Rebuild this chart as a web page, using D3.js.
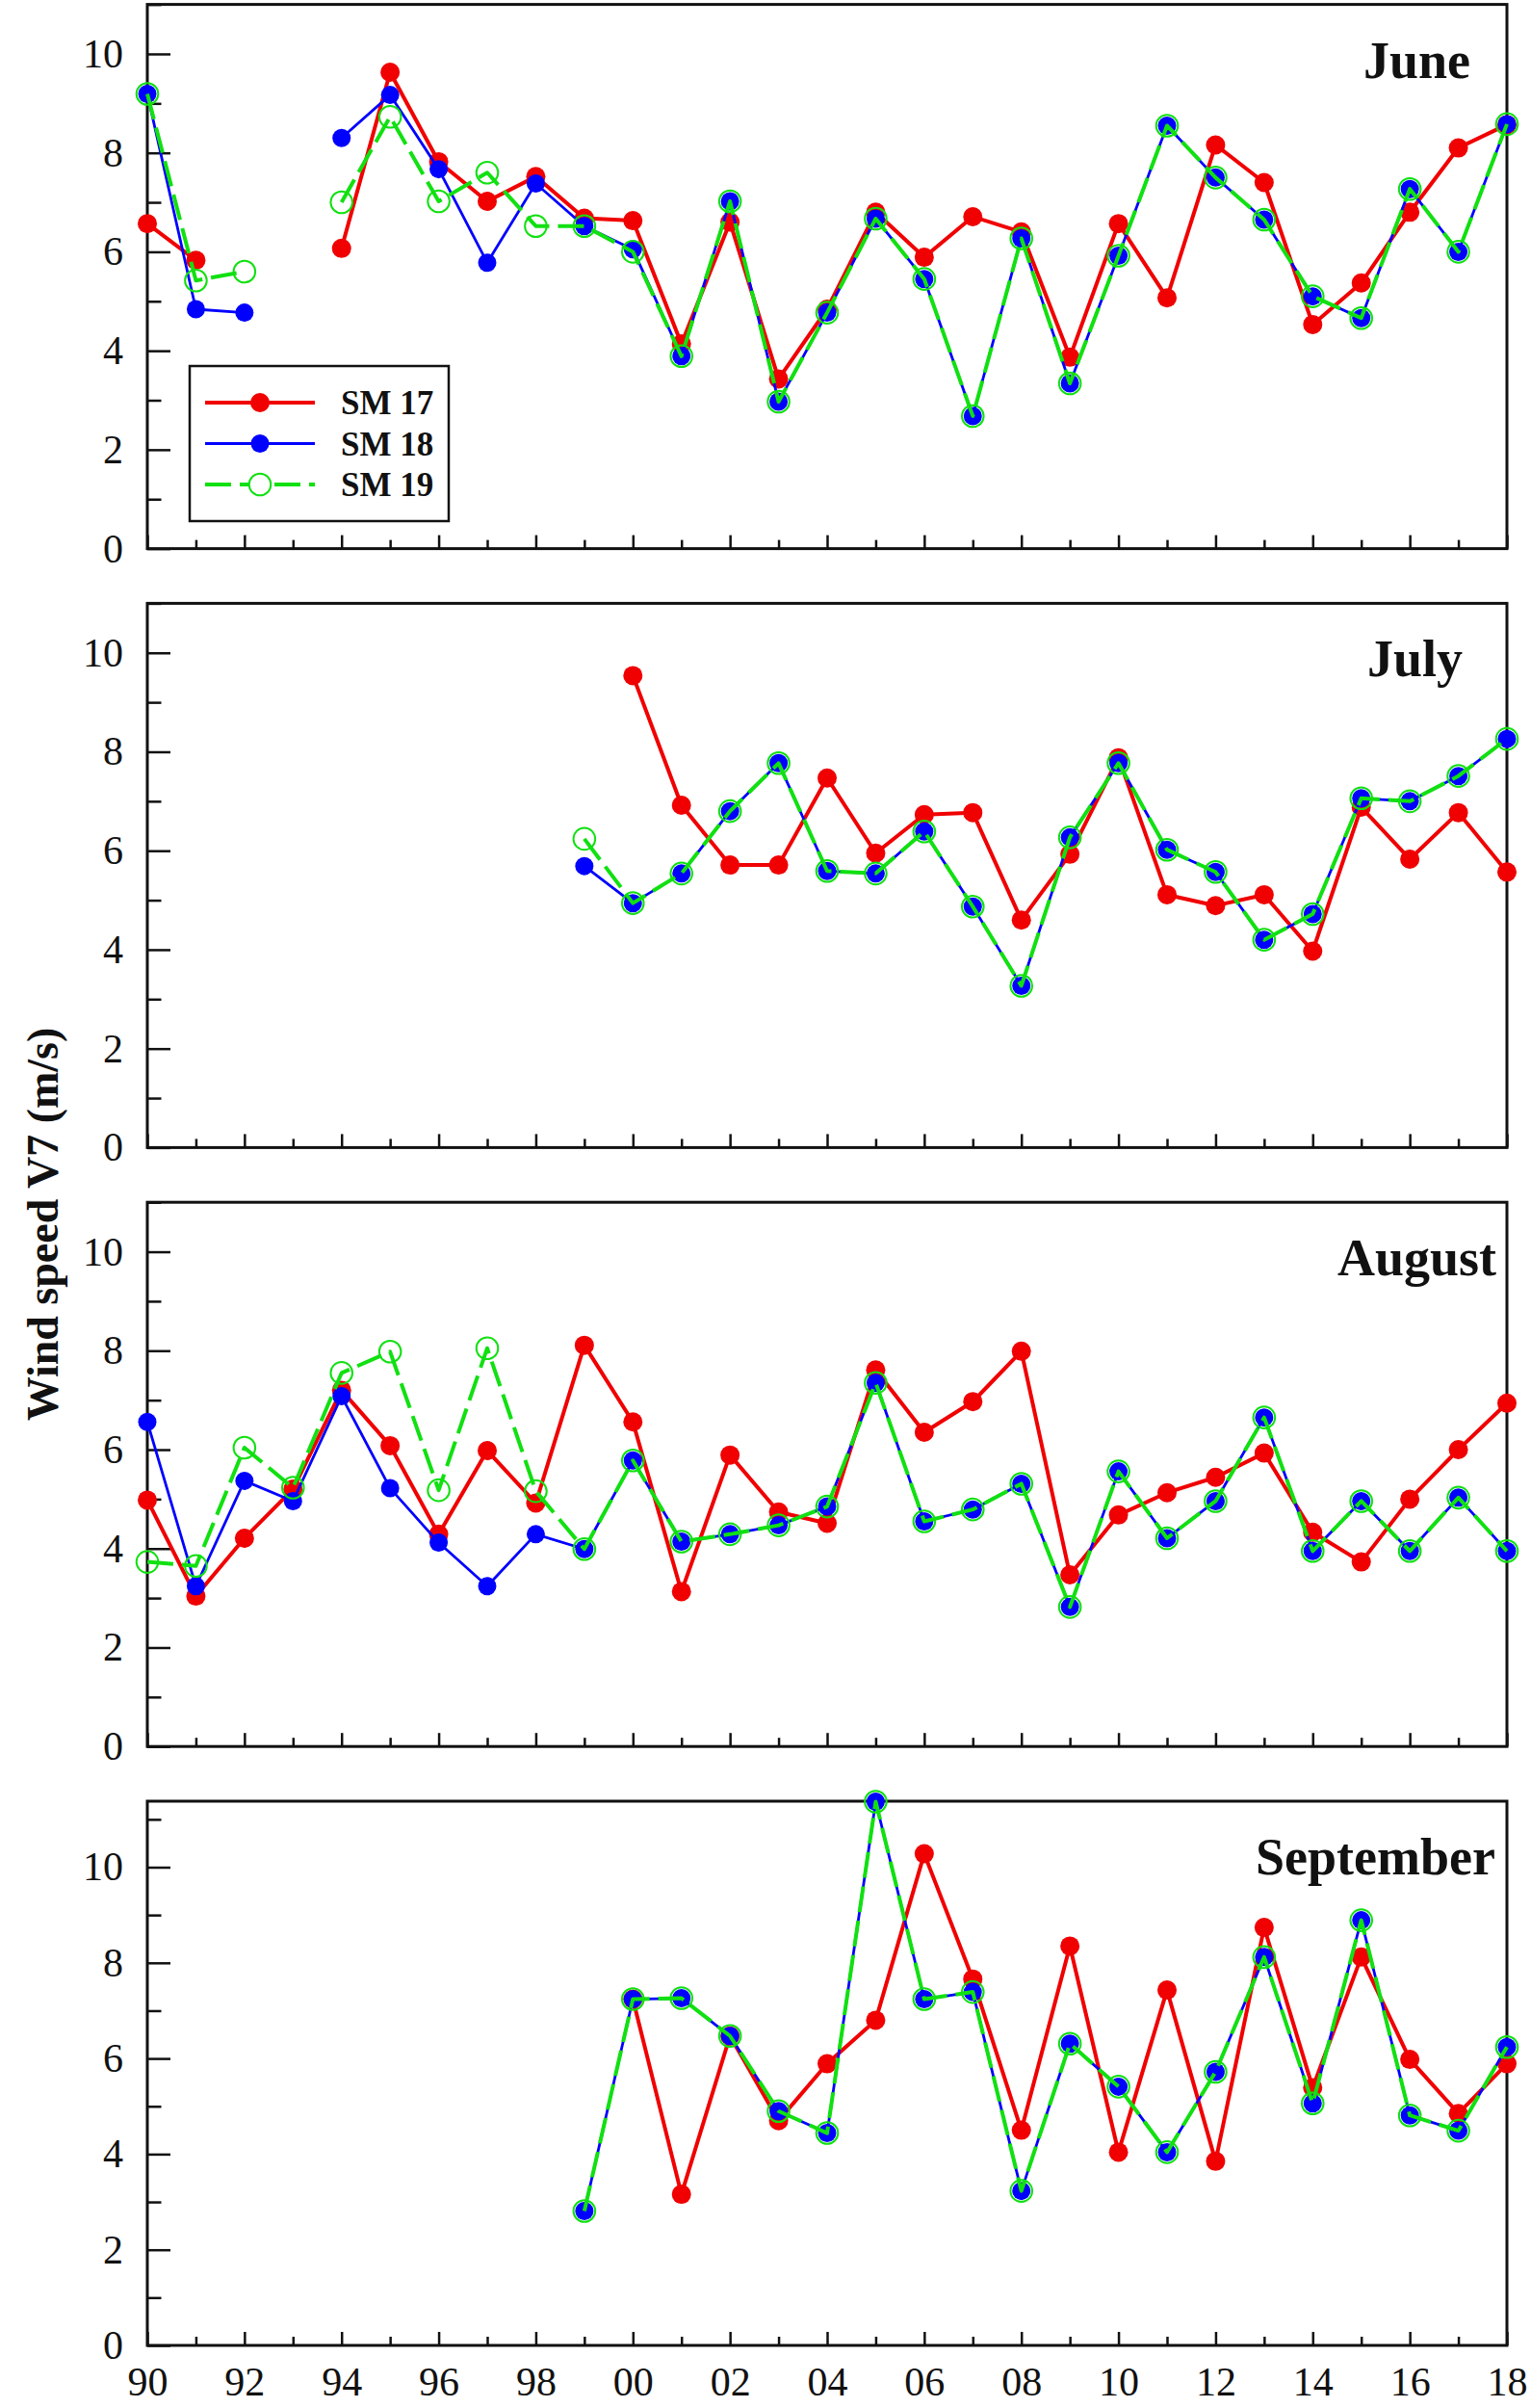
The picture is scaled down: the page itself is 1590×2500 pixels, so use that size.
<!DOCTYPE html>
<html><head><meta charset="utf-8">
<script src="https://cdn.jsdelivr.net/npm/d3@7"></script>
<style>
body{margin:0;background:#fff}
svg{display:block}
text{font-family:"Liberation Serif","Times New Roman",serif}
</style>
</head><body>
<svg id="c" width="1590" height="2500"></svg>
<script>
// ---------------- DATA ----------------
const years = [1990,1991,1992,1993,1994,1995,1996,1997,1998,1999,2000,2001,2002,2003,2004,2005,2006,2007,2008,2009,2010,2011,2012,2013,2014,2015,2016,2017,2018];
const xTickYears = [1990,1992,1994,1996,1998,2000,2002,2004,2006,2008,2010,2012,2014,2016,2018];
const xTickLabels = ["90","92","94","96","98","00","02","04","06","08","10","12","14","16","18"];
const yTickMajor = [0,2,4,6,8,10];
const yTickMinor = [1,3,5,7,9,11];
const months = ["June","July","August","September"];
const seriesNames = ["SM 17","SM 18","SM 19"];
const yAxisTitle = "Wind speed V7 (m/s)";
const yMax = [11, 11, 11, 11.38];

//               90    91    92    93    94    95    96    97    98    99    00    01    02    03    04    05    06    07    08    09    10    11    12    13    14    15    16    17    18
const juneSM17 = [6.57, 5.83, null, null, 6.07, 9.63, 7.82, 7.02, 7.52, 6.68, 6.63, 4.14, 6.60, 3.43, 4.84, 6.80, 5.89, 6.71, 6.40, 3.87, 6.57, 5.07, 8.16, 7.40, 4.53, 5.37, 6.80, 8.10, 8.57];
const juneSM18 = [9.19, 4.84, 4.77, null, 8.30, 9.17, 7.67, 5.78, 7.38, 6.52, 6.05, 3.89, 7.02, 2.97, 4.77, 6.67, 5.45, 2.68, 6.27, 3.34, 5.92, 8.55, 7.50, 6.65, 5.10, 4.66, 7.27, 6.00, 8.58];
const juneSM19 = [9.19, 5.42, 5.60, null, 7.00, 8.73, 7.02, 7.60, 6.52, 6.52, 6.00, 3.89, 7.02, 2.97, 4.77, 6.67, 5.45, 2.68, 6.27, 3.34, 5.92, 8.55, 7.50, 6.65, 5.10, 4.66, 7.27, 6.00, 8.58];

const julySM17 = [null, null, null, null, null, null, null, null, null, null, 9.54, 6.92, 5.71, 5.71, 7.47, 5.95, 6.73, 6.77, 4.60, 5.93, 7.88, 5.11, 4.89, 5.11, 3.97, 6.88, 5.83, 6.77, 5.57];
const julySM18 = [null, null, null, null, null, null, null, null, null, 5.69, 4.94, 5.54, 6.80, 7.77, 5.59, 5.54, 6.39, 4.87, 3.27, 6.27, 7.77, 6.02, 5.57, 4.20, 4.72, 7.06, 7.00, 7.51, 8.26];
const julySM19 = [null, null, null, null, null, null, null, null, null, 6.24, 4.94, 5.54, 6.80, 7.77, 5.59, 5.54, 6.39, 4.87, 3.27, 6.27, 7.77, 6.02, 5.57, 4.20, 4.72, 7.06, 7.00, 7.51, 8.26];

const augSM17 = [4.98, 3.04, 4.21, 5.20, 7.20, 6.08, 4.29, 5.98, 4.92, 8.11, 6.56, 3.13, 5.89, 4.74, 4.51, 7.61, 6.35, 6.97, 7.99, 3.47, 4.68, 5.13, 5.44, 5.93, 4.33, 3.73, 5.00, 6.00, 6.94];
const augSM18 = [6.56, 3.24, 5.37, 4.96, 7.08, 5.22, 4.12, 3.24, 4.29, 3.99, 5.78, 4.14, 4.29, 4.47, 4.85, 7.35, 4.55, 4.79, 5.31, 2.82, 5.56, 4.21, 4.96, 6.65, 3.95, 4.96, 3.95, 5.03, 3.95];
const augSM19 = [3.73, 3.65, 6.04, 5.23, 7.55, 7.98, 5.18, 8.05, 5.16, 3.99, 5.78, 4.14, 4.29, 4.47, 4.85, 7.35, 4.55, 4.79, 5.31, 2.82, 5.56, 4.21, 4.96, 6.65, 3.95, 4.96, 3.95, 5.03, 3.95];

const sepSM17 = [null, null, null, null, null, null, null, null, null, null, 7.24, 3.16, 6.47, 4.70, 5.89, 6.80, 10.28, 7.66, 4.50, 8.35, 4.04, 7.43, 3.85, 8.74, 5.39, 8.12, 5.98, 4.85, 5.89];
const sepSM18 = [null, null, null, null, null, null, null, null, null, 2.81, 7.24, 7.26, 6.47, 4.90, 4.44, 11.37, 7.24, 7.39, 3.23, 6.31, 5.41, 4.04, 5.72, 8.12, 5.06, 8.89, 4.81, 4.49, 6.24];
const sepSM19 = [null, null, null, null, null, null, null, null, null, 2.81, 7.24, 7.26, 6.47, 4.90, 4.44, 11.37, 7.24, 7.39, 3.23, 6.31, 5.41, 4.04, 5.72, 8.12, 5.06, 8.89, 4.81, 4.49, 6.24];

const panelSeries = [
  [juneSM17, juneSM18, juneSM19],
  [julySM17, julySM18, julySM19],
  [augSM17, augSM18, augSM19],
  [sepSM17, sepSM18, sepSM19]
];

// ---------------- LAYOUT / STYLE ----------------
const plotLeft = 153, plotRight = 1565;
const panelTop0 = 4.6, panelStep = 621.8, panelH = 565;
const titleRight = [1527, 1519, 1554, 1553];
const styles = [
  {color:"#f00000", width:4, dash:null, r:10, fill:"#f00000", stroke:"none", sw:0},
  {color:"#0000ff", width:2.8, dash:null, r:9.5, fill:"#0000ff", stroke:"none", sw:0},
  {color:"#11e011", width:4, dash:"27,9", r:11.3, fill:"none", stroke:"#11e011", sw:2}
];

const svg = d3.select("#c");
const x = d3.scaleLinear().domain([1990, 2018]).range([plotLeft, plotRight]);

panelSeries.forEach((series, pi) => {
  const top = panelTop0 + pi * panelStep;
  const bottom = top + panelH;
  const y = d3.scaleLinear().domain([0, yMax[pi]]).range([bottom, top]);
  const g = svg.append("g");

  // y minor ticks (inside)
  g.append("g").attr("transform", `translate(${plotLeft},0)`)
    .call(d3.axisLeft(y).tickValues(yTickMinor.filter(v => v <= yMax[pi])).tickSize(-14.5).tickFormat(""))
    .call(a => a.select(".domain").remove())
    .call(a => a.selectAll("line").attr("stroke", "#111").attr("stroke-width", 2.5));
  // y major ticks with labels
  g.append("g").attr("transform", `translate(${plotLeft},0)`)
    .call(d3.axisLeft(y).tickValues(yTickMajor).tickSize(-24).tickPadding(25).tickFormat(d3.format("d")))
    .call(a => a.select(".domain").remove())
    .call(a => a.selectAll("line").attr("stroke", "#111").attr("stroke-width", 2.5))
    .call(a => a.selectAll("text").attr("font-size", 42).attr("fill", "#111")
      .attr("font-family", "Liberation Serif, Times New Roman, serif"));

  // x minor ticks
  const minorYears = years.filter(v => xTickYears.indexOf(v) < 0);
  g.append("g").attr("transform", `translate(0,${bottom})`)
    .call(d3.axisBottom(x).tickValues(minorYears).tickSize(-9).tickFormat(""))
    .call(a => a.select(".domain").remove())
    .call(a => a.selectAll("line").attr("stroke", "#111").attr("stroke-width", 2.5));
  // x major ticks
  g.append("g").attr("transform", `translate(0,${bottom})`)
    .call(d3.axisBottom(x).tickValues(xTickYears).tickSize(-14).tickPadding(22)
      .tickFormat((d, i) => pi === panelSeries.length - 1 ? xTickLabels[i] : ""))
    .call(a => a.select(".domain").remove())
    .call(a => a.selectAll("line").attr("stroke", "#111").attr("stroke-width", 2.5))
    .call(a => a.selectAll("text").attr("font-size", 42).attr("fill", "#111")
      .attr("font-family", "Liberation Serif, Times New Roman, serif"));

  // frame
  g.append("rect").attr("x", plotLeft).attr("y", top)
    .attr("width", plotRight - plotLeft).attr("height", panelH)
    .attr("fill", "none").attr("stroke", "#111").attr("stroke-width", 3);

  // series
  series.forEach((vals, si) => {
    const st = styles[si];
    const pts = years.map((yr, k) => ({yr, v: vals[k]}));
    const line = d3.line().defined(d => d.v !== null).x(d => x(d.yr)).y(d => y(d.v));
    g.append("path").datum(pts).attr("d", line)
      .attr("fill", "none").attr("stroke", st.color).attr("stroke-width", st.width)
      .attr("stroke-dasharray", st.dash).attr("stroke-linejoin", "round");
    g.selectAll(null).data(pts.filter(d => d.v !== null)).enter().append("circle")
      .attr("cx", d => x(d.yr)).attr("cy", d => y(d.v)).attr("r", st.r)
      .attr("fill", st.fill).attr("stroke", st.stroke).attr("stroke-width", st.sw);
  });

  // month title
  g.append("text").attr("x", titleRight[pi]).attr("y", top + 76)
    .attr("text-anchor", "end").attr("font-weight", "bold").attr("font-size", 54)
    .attr("fill", "#111").text(months[pi]);

  // legend in first panel
  if (pi === 0) {
    const lg = g.append("g");
    lg.append("rect").attr("x", 197).attr("y", 380).attr("width", 269).attr("height", 161)
      .attr("fill", "#fff").attr("stroke", "#111").attr("stroke-width", 2.5);
    seriesNames.forEach((nm, si) => {
      const st = styles[si];
      const ly = 418 + si * 42.5;
      lg.append("line").attr("x1", 213).attr("x2", 327).attr("y1", ly).attr("y2", ly)
        .attr("stroke", st.color).attr("stroke-width", st.width).attr("stroke-dasharray", st.dash);
      lg.append("circle").attr("cx", 270).attr("cy", ly).attr("r", st.r)
        .attr("fill", st.fill === "none" ? "#fff" : st.fill).attr("stroke", st.stroke).attr("stroke-width", st.sw);
      lg.append("text").attr("x", 354).attr("y", ly).attr("dy", "0.35em")
        .attr("font-weight", "bold").attr("font-size", 35).attr("fill", "#111").text(nm);
    });
  }
});

// y axis title
svg.append("text").attr("transform", "translate(60,1271) rotate(-90)")
  .attr("text-anchor", "middle").attr("font-weight", "bold").attr("font-size", 46)
  .attr("fill", "#111").text(yAxisTitle);
</script>
</body></html>
